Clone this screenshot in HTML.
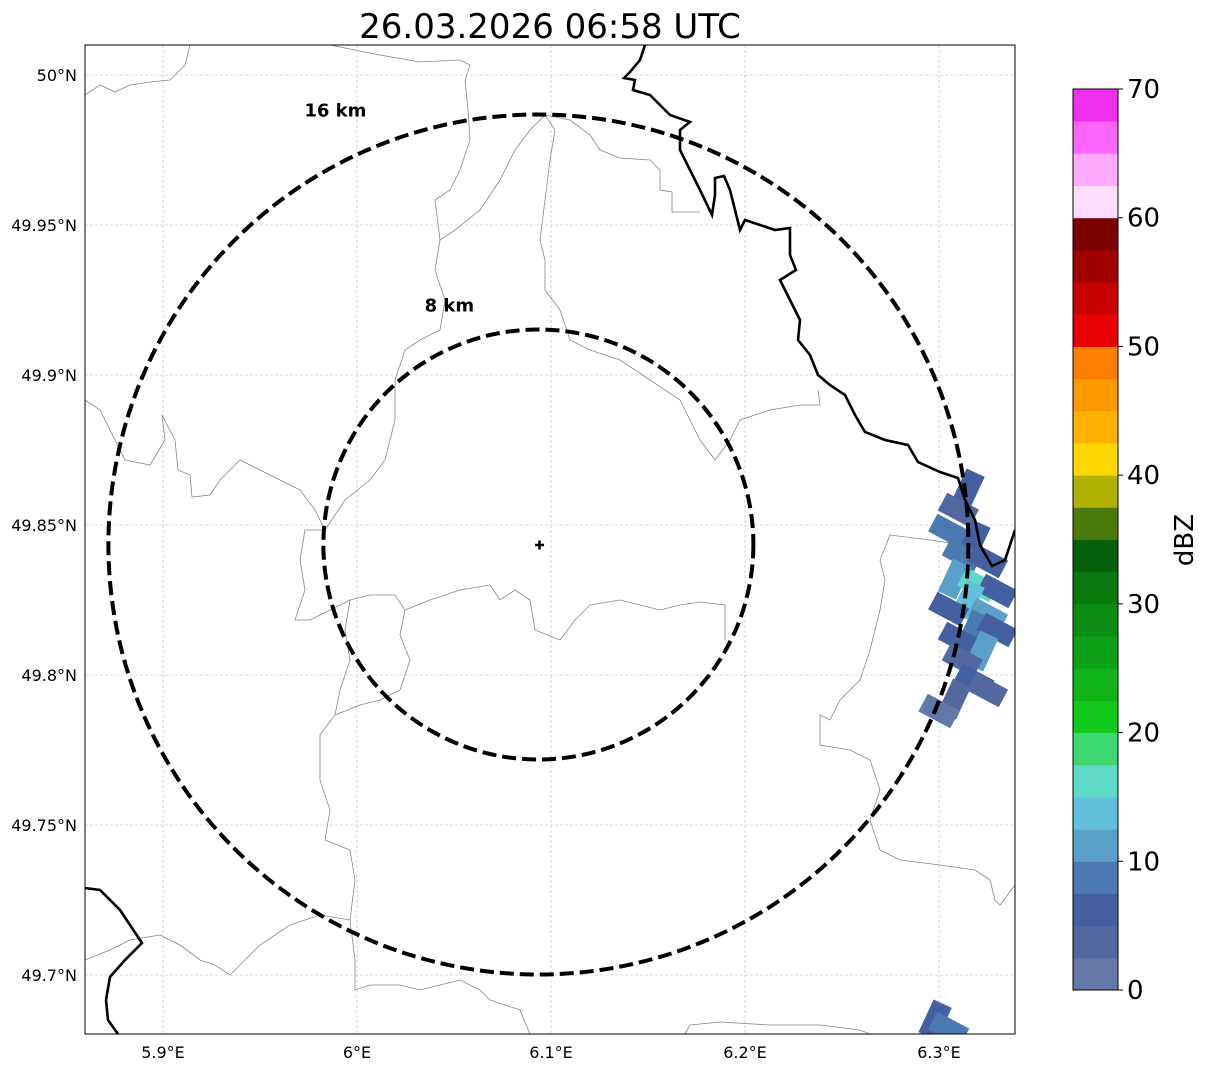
<!DOCTYPE html>
<html><head><meta charset="utf-8"><style>
html,body{margin:0;padding:0;background:#fff;}
svg{display:block;font-family:"DejaVu Sans","Liberation Sans",sans-serif;}
</style></head><body>
<svg id="chart" width="1207" height="1069" viewBox="0 0 1207 1069" xmlns="http://www.w3.org/2000/svg">
<text x="550" y="38" font-size="34" text-anchor="middle">26.03.2026 06:58 UTC</text>
<defs><clipPath id="mapclip"><rect x="85" y="45" width="930" height="989"/></clipPath></defs>
<g id="map" clip-path="url(#mapclip)">
<g id="grid"></g>
<g id="borders" fill="none" stroke="#888" stroke-width="0.8">
<polyline points="85,95 100,85 115,92 130,85 150,82 170,80 185,65 190,45"/>
<polyline points="85,400 100,410 110,430 125,460 150,465 165,440 162,415 175,440 178,470 190,475 192,497 210,495 220,480 240,460 260,470 280,480 300,490 315,510 325,530 305,530 300,560 305,590 295,620 310,620 330,610 350,600 370,595 395,595 405,610 430,600 460,590 490,585 500,600 515,590 530,600 535,630 560,640 575,620 590,605 620,600 640,605 660,610 680,605 700,602 725,605 725,640"/>
<polyline points="325,530 345,500 370,480 385,460 395,420 395,380 405,350 420,340 440,330 445,300 435,270 440,240 435,200 450,190 460,170 470,140 468,110 465,80 470,65 460,60 420,62 380,55 330,45"/>
<polyline points="440,240 455,230 480,210 500,180 515,150 530,130 545,115 555,130 550,160 545,200 540,240 545,260 545,290 560,310 570,340 590,350 620,360 650,380 680,400 700,440 715,460 730,440 740,420 770,410 800,405 820,405 818,390"/>
<polyline points="545,115 570,120 590,135 600,150 620,158 650,160 660,170 660,190 672,192 672,212 700,212"/>
<polyline points="350,600 345,630 350,660 340,690 335,715 320,735 320,780 330,810 325,840 350,850 355,880 350,920 355,960 355,990 370,985 400,985 420,990 440,985 460,980 480,990 490,1000 520,1010 530,1034"/>
<polyline points="335,715 360,705 380,700 400,690 410,660 400,635 405,610"/>
<polyline points="85,960 110,950 130,940 160,935 180,945 200,960 215,965 230,975 245,960 260,945 290,925 320,915 350,920"/>
<polyline points="685,1034 690,1025 720,1022 770,1025 820,1025 860,1030 870,1034"/>
<polyline points="965,545 930,540 890,535 880,560 885,580 880,610 870,650 860,680 840,700 830,720 820,715 820,745 850,750 870,760 880,790 870,820 880,850 900,860 940,865 975,870 990,880 995,900 1000,905 1015,885"/>
</g>
<g id="rain"></g>
<polyline fill="none" stroke="#000" stroke-width="2.6" points="645,45 640,60 630,72 624,78 635,80 633,90 650,95 660,105 670,115 690,122 680,130 680,150 690,170 700,190 712,215 715,195 715,178 724,176 730,190 735,210 740,230 745,220 760,225 775,230 790,228 790,255 796,270 780,280 790,300 800,320 798,340 810,355 818,375 830,385 845,395 855,415 865,432 885,440 908,445 918,462 940,472 958,478 965,500 975,520 980,545 992,566 1005,560 1015,530"/>
<polyline fill="none" stroke="#000" stroke-width="2.6" points="85,888 100,890 120,910 142,943 125,960 110,977 106,1000 108,1020 118,1034"/>
<g id="rings"></g>
<path d="M535,545 h9 M539.5,540.5 v9" stroke="#000" stroke-width="2.5"/>
</g>
<rect x="85" y="45" width="930" height="989" fill="none" stroke="#000" stroke-width="1"/>
<g id="ticks" font-size="16"></g>
<g id="cbar"></g>
<text transform="translate(1193,540) rotate(-90)" font-size="26" text-anchor="middle">dBZ</text>
</svg>
<script>
const lonTicks = [5.9, 6.0, 6.1, 6.2, 6.3];
const lonLabels = ["5.9°E", "6°E", "6.1°E", "6.2°E", "6.3°E"];
const latTicks = [50.0, 49.95, 49.9, 49.85, 49.8, 49.75, 49.7];
const latLabels = ["50°N", "49.95°N", "49.9°N", "49.85°N", "49.8°N", "49.75°N", "49.7°N"];
const ringsKm = [8, 16];
const ringLabels = ["8 km", "16 km"];
const cbarTicks = [0, 10, 20, 30, 40, 50, 60, 70];
const cbarColors = ["#6378a8","#5468a0","#4460a0","#4a7ab0","#5aa0c8","#62c0dc","#60d8c8","#3ed870","#12c81a","#10b418","#0ea016","#0b8c14","#0a7a10","#06600a","#4a7a0a","#b0b000","#ffd700","#ffb300","#ff9900","#ff7f00","#e80000","#c80000","#a00000","#7a0000","#ffddff","#ffaaff","#ff66ff","#f030f0"];
// rain cells: lon, lat, dBZ
const rainLon = [6.315,6.31,6.305,6.318,6.312,6.325,6.308,6.32,6.33,6.315,6.305,6.325,6.318,6.31,6.33,6.322,6.312,6.318,6.308,6.3,6.325,6.298,6.305];
const rainLat = [49.862,49.855,49.848,49.845,49.84,49.838,49.832,49.83,49.828,49.825,49.822,49.82,49.815,49.812,49.815,49.808,49.805,49.798,49.792,49.788,49.795,49.685,49.682];
const rainDbz = [5,4,8,7,9,6,11,15,5,13,7,12,8,6,5,10,4,5,3,2,3,6,8];

const ns="http://www.w3.org/2000/svg";
const X = lon => 163 + (lon-5.9)*1940;
const Y = lat => 75 + (50.0-lat)*3000;
const cx = X(6.0935), cy = Y(49.8435), pxPerKm = 430/16;
function mk(t, a, p){const e=document.createElementNS(ns,t);for(const k in a)e.setAttribute(k,a[k]);p.appendChild(e);return e;}

const grid=document.getElementById('grid'), ticks=document.getElementById('ticks');
lonTicks.forEach((v,i)=>{
  const l=mk('line',{x1:X(v),x2:X(v),y1:45,y2:1034,stroke:'#bbb','stroke-width':0.6,'stroke-dasharray':'3,2'},grid);
  
  
  const t=mk('text',{x:X(v),y:1058,'text-anchor':'middle'},ticks);t.textContent=lonLabels[i];
  
  
});
latTicks.forEach((v,i)=>{
  const l=mk('line',{x1:85,x2:1015,y1:Y(v),y2:Y(v),stroke:'#bbb','stroke-width':0.6,'stroke-dasharray':'3,2'},grid);
  
  
  const t=mk('text',{x:77,y:Y(v)+6,'text-anchor':'end'},ticks);t.textContent=latLabels[i];
  
  
});

function colorFor(d){return cbarColors[Math.max(0,Math.min(cbarColors.length-1,Math.floor(d/2.5)))];}
const rain=document.getElementById('rain');
rainLon.forEach((lo,i)=>{
  const x=X(lo), y=Y(rainLat[i]);
  const r=mk('rect',{x:x-18,y:y-10,width:36,height:20,fill:colorFor(rainDbz[i]),transform:`rotate(${i%3===0?-65:28} ${x} ${y})`},rain);
  
  
});

const rings=document.getElementById('rings');
ringsKm.forEach((km,i)=>{
  const r=km*pxPerKm;
  const c=mk('circle',{cx:cx,cy:cy,r:r,fill:'none',stroke:'#000','stroke-width':4,'stroke-dasharray':'14,6'},rings);
  
  
  const t=mk('text',{x:cx-89-(km-8)*14.25,y:cy-r-18+(km-8)*2.5,'font-size':18,'font-weight':'bold','text-anchor':'middle'},rings);
  t.textContent=ringLabels[i];
  
  
});

const cbar=document.getElementById('cbar');
const cb0=990, cb1=89, cbx=1073, cbw=45, vmax=70;
const CY=v=>cb0-(v/vmax)*(cb0-cb1);
cbarColors.forEach((c,i)=>{
  const r=mk('rect',{x:cbx,y:CY((i+1)*2.5),width:cbw,height:CY(i*2.5)-CY((i+1)*2.5)+0.5,fill:c},cbar);
  
  
});
mk('rect',{x:cbx,y:cb1,width:cbw,height:cb0-cb1,fill:'none',stroke:'#000','stroke-width':1},cbar);
cbarTicks.forEach(v=>{
  mk('line',{x1:cbx+cbw,x2:cbx+cbw+5,y1:CY(v),y2:CY(v),stroke:'#000'},cbar);
  const t=mk('text',{x:cbx+cbw+9,y:CY(v)+9,'font-size':26},cbar);t.textContent=v;
  
  
});
</script>
</body></html>
